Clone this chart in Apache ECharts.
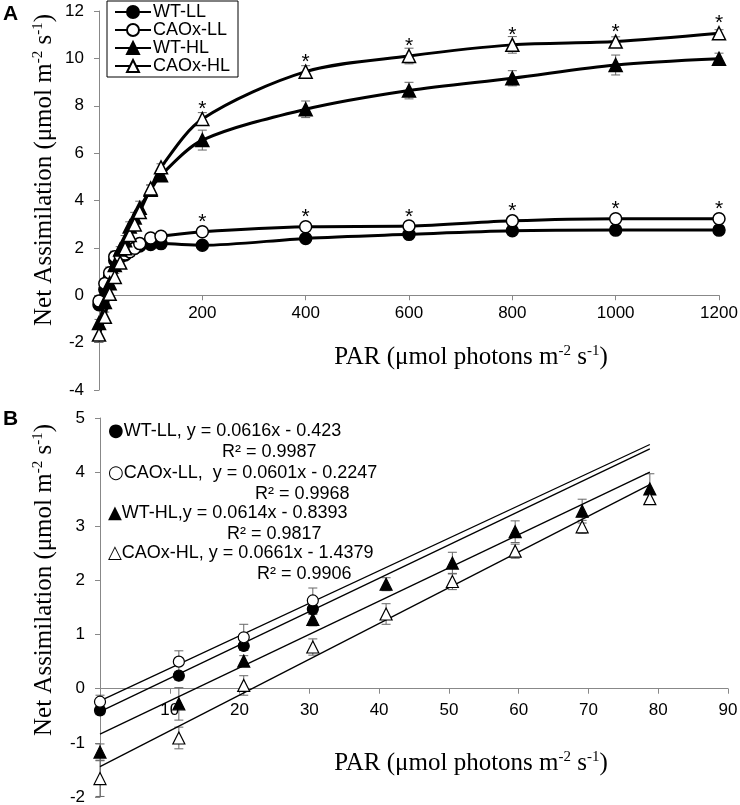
<!DOCTYPE html>
<html><head><meta charset="utf-8">
<script src="https://cdn.jsdelivr.net/npm/echarts@6/dist/echarts.min.js"></script>
<style>html,body{margin:0;padding:0;background:#fff}#c{width:740px;height:805px}</style>
</head><body><div id="c"></div>
<script>
// ---------- Panel A data ----------
const seriesNames = ['WT-LL', 'CAOx-LL', 'WT-HL', 'CAOx-HL'];
const parA = [0, 11.3, 20.6, 30.5, 41, 50.5, 59.5, 69.1, 78.8, 100, 120, 200, 400, 600, 800, 1000, 1200];
const wtLL_A  = [-0.40, 0.24, 0.79, 1.47, 1.60, 1.70, 1.85, 1.98, 2.08, 2.14, 2.18, 2.11, 2.40, 2.57, 2.72, 2.75, 2.75];
const caoLL_A = [-0.24, 0.50, 0.95, 1.63, 1.66, 1.74, 1.84, 1.98, 2.18, 2.42, 2.49, 2.68, 2.89, 2.92, 3.14, 3.23, 3.23];
const wtHL_A  = [-1.17, -0.28, 0.51, 1.28, 1.93, 2.32, 2.90, 3.28, 3.69, 4.45, 5.07, 6.55, 7.85, 8.64, 9.16, 9.72, 9.98];
const caoHL_A = [-1.66, -0.91, 0.06, 0.77, 1.38, 1.98, 2.54, 2.99, 3.51, 4.51, 5.40, 7.44, 9.44, 10.10, 10.57, 10.71, 11.06];
const errWtLL_A  = [0.08, 0.08, 0.08, 0.10, 0.10, 0.10, 0.10, 0.10, 0.10, 0.10, 0.10, 0.10, 0.10, 0.10, 0.10, 0.10, 0.10];
const errCaoLL_A = [0.12, 0.20, 0.24, 0.23, 0.15, 0.15, 0.15, 0.15, 0.15, 0.12, 0.12, 0.12, 0.12, 0.10, 0.10, 0.10, 0.10];
const errWtHL_A  = [0.15, 0.30, 0.10, 0.12, 0.12, 0.20, 0.20, 0.22, 0.28, 0.20, 0.20, 0.42, 0.35, 0.35, 0.32, 0.42, 0.24];
const errCaoHL_A = [0.33, 0.20, 0.18, 0.15, 0.19, 0.15, 0.13, 0.12, 0.10, 0.15, 0.15, 0.27, 0.25, 0.33, 0.35, 0.20, 0.15];
// significance asterisks (1 = '*')
const sigLL_A = [0,0,0,0,0,0,0,0,0,0,0,1,1,1,1,1,1];
const sigHL_A = [0,0,0,0,0,0,0,0,0,0,0,1,1,1,1,1,1];
const xTicksA = [0, 200, 400, 600, 800, 1000, 1200];
const yTicksA = [-4, -2, 0, 2, 4, 6, 8, 10, 12];

// ---------- Panel B data ----------
const parB = [0, 11.3, 20.6, 30.5, 41, 50.5, 59.5, 69.1, 78.8];
const wtLL_B  = [-0.40, 0.24, 0.79, 1.47];
const caoLL_B = [-0.24, 0.50, 0.95, 1.63];
const wtHL_B  = [-1.17, -0.28, 0.51, 1.28, 1.93, 2.32, 2.90, 3.28, 3.69];
const caoHL_B = [-1.66, -0.91, 0.06, 0.77, 1.38, 1.98, 2.54, 2.99, 3.51];
const errWtLL_B  = [0.08, 0.08, 0.08, 0.10];
const errCaoLL_B = [0.12, 0.20, 0.24, 0.23];
const errWtHL_B  = [0.15, 0.30, 0.10, 0.12, 0.12, 0.20, 0.20, 0.22, 0.28];
const errCaoHL_B = [0.33, 0.20, 0.18, 0.15, 0.19, 0.15, 0.13, 0.12, 0.10];
const fitSlope = [0.0616, 0.0601, 0.0614, 0.0661];
const fitIntercept = [-0.423, -0.2247, -0.8393, -1.4379];
const fitR2 = ['0.9987', '0.9968', '0.9817', '0.9906'];
const fitSep = [' ', '  ', '', ' '];
const fitXEnd = 78.8;
const xTicksB = [0, 10, 20, 30, 40, 50, 60, 70, 80, 90];
const yTicksB = [-2, -1, 0, 1, 2, 3, 4, 5];

// ---------- styles / layout ----------
const SANS = 'Liberation Sans, Arial, sans-serif';
const SERIF = 'Liberation Serif, Times New Roman, serif';
const symbols = ['circle', 'circle', 'triangle', 'triangle'];
const fills = ['#000', '#fff', '#000', '#fff'];
const symChars = ['●', '○', '▲', '△'];
const H = 805;
const gridA = {left: 99, right: 21, top: 11, bottom: 415};
const gridB = {left: 100, right: 12, top: 418, bottom: 8};
function zeroOffset(grid, ticks) {
  const h = H - grid.top - grid.bottom;
  const mn = ticks[0], mx = ticks[ticks.length - 1];
  return -h * (0 - mn) / (mx - mn);
}

const chart = echarts.init(document.getElementById('c'), null, {renderer: 'canvas'});

function errSeries(name, xi, xs, ys, es) {
  return {
    type: 'custom', name: name, xAxisIndex: xi, yAxisIndex: xi, z: 1, silent: true,
    data: xs.slice(0, ys.length).map((x, i) => [x, ys[i] - es[i], ys[i] + es[i]]),
    encode: {x: 0, y: [1, 2]},
    renderItem: function (params, api) {
      const x = api.value(0);
      const lo = api.coord([x, api.value(1)]);
      const hi = api.coord([x, api.value(2)]);
      const w = 4.5;
      const st = {stroke: '#666', lineWidth: 1};
      return {type: 'group', children: [
        {type: 'line', shape: {x1: lo[0], y1: lo[1], x2: hi[0], y2: hi[1]}, style: st},
        {type: 'line', shape: {x1: lo[0] - w, y1: lo[1], x2: lo[0] + w, y2: lo[1]}, style: st},
        {type: 'line', shape: {x1: hi[0] - w, y1: hi[1], x2: hi[0] + w, y2: hi[1]}, style: st}
      ]};
    }
  };
}

function lineSeriesA(k, ys, sig) {
  return {
    type: 'line', name: seriesNames[k], xAxisIndex: 0, yAxisIndex: 0, z: 3,
    smooth: 0.3, symbol: symbols[k], symbolSize: k >= 2 ? 13 : 12,
    lineStyle: {color: '#000', width: 3},
    itemStyle: {color: fills[k], borderColor: '#000', borderWidth: 1.5},
    emphasis: {disabled: true},
    data: parA.map((x, i) => {
      const item = {value: [x, ys[i]]};
      if (sig && sig[i]) {
        item.label = {show: true, formatter: '*', position: 'top', distance: -8,
          fontSize: 21, color: '#000', fontFamily: SANS};
      }
      return item;
    })
  };
}

function scatterB(k, ys) {
  return {
    type: 'line', name: seriesNames[k] + ' (B)', xAxisIndex: 1, yAxisIndex: 1, z: 3,
    symbol: symbols[k], symbolSize: k >= 2 ? 12 : 11, showSymbol: true,
    lineStyle: {width: 0, opacity: 0},
    itemStyle: {color: fills[k], borderColor: '#000', borderWidth: 1.2},
    emphasis: {disabled: true},
    data: parB.slice(0, ys.length).map((x, i) => [x, ys[i]])
  };
}

function fitSeries(k) {
  return {
    type: 'line', name: seriesNames[k] + ' fit', xAxisIndex: 1, yAxisIndex: 1, z: 2,
    showSymbol: false, symbol: 'none', silent: true,
    lineStyle: {color: '#000', width: 1.3},
    data: [[0, fitIntercept[k]], [fitXEnd, fitSlope[k] * fitXEnd + fitIntercept[k]]]
  };
}

function axisCommon(extra) {
  return Object.assign({
    type: 'value',
    axisLine: {show: true, onZero: false, lineStyle: {color: '#888', width: 1}},
    axisTick: {show: true, inside: false, length: 5, lineStyle: {color: '#888'}},
    splitLine: {show: false},
    axisLabel: {color: '#000', fontSize: 17, fontFamily: SANS}
  }, extra);
}

const supRich = {
  a: {fontFamily: SERIF, fontSize: 25, color: '#000', lineHeight: 26},
  s: {fontFamily: SERIF, fontSize: 15, color: '#000', verticalAlign: 'top', lineHeight: 26, padding: [0, 0, 10, 0]}
};
const xTitle = '{a|PAR (μmol photons m}{s|-2}{a| s}{s|-1}{a|)}';
const yTitle = '{a|Net Assimilation (μmol m}{s|-2}{a| s}{s|-1}{a|)}';

const graphics = [
  {type: 'text', left: 3, top: 4, style: {text: 'A', font: 'bold 21px ' + SANS, fill: '#000'}},
  {type: 'text', left: 3, top: 409, style: {text: 'B', font: 'bold 21px ' + SANS, fill: '#000'}},
  {type: 'text', x: 471, y: 357, style: {text: xTitle, rich: supRich, align: 'center', verticalAlign: 'middle'}},
  {type: 'text', x: 471, y: 763, style: {text: xTitle, rich: supRich, align: 'center', verticalAlign: 'middle'}},
  {type: 'text', x: 44, y: 170, rotation: Math.PI / 2, style: {text: yTitle, rich: supRich, align: 'center', verticalAlign: 'middle'}},
  {type: 'text', x: 44, y: 580, rotation: Math.PI / 2, style: {text: yTitle, rich: supRich, align: 'center', verticalAlign: 'middle'}}
];
const eqY = [431, 473, 513, 553];
const r2X = [222, 255, 227, 257];
for (let k = 0; k < 4; k++) {
  const eq = '{m|' + symChars[k] + '}{t|' + seriesNames[k] + ',' + fitSep[k] + 'y = ' + fitSlope[k] + 'x - ' + Math.abs(fitIntercept[k]) + '}';
  graphics.push({type: 'text', x: 108, y: eqY[k], style: {text: eq, verticalAlign: 'middle',
    rich: {m: {fontFamily: 'DejaVu Sans', fontSize: 18, color: '#000'}, t: {fontFamily: SANS, fontSize: 18, color: '#000'}}}});
  graphics.push({type: 'text', x: r2X[k], y: eqY[k] + 21, style: {text: 'R² = ' + fitR2[k], verticalAlign: 'middle',
    font: '18px ' + SANS, fill: '#000'}});
}

const option = {
  animation: false,
  backgroundColor: '#fff',
  textStyle: {fontFamily: SANS},
  grid: [
    Object.assign({outerBoundsMode: 'none', containLabel: false}, gridA),
    Object.assign({outerBoundsMode: 'none', containLabel: false}, gridB)
  ],
  xAxis: [
    axisCommon({gridIndex: 0, min: xTicksA[0], max: xTicksA[xTicksA.length - 1], interval: 200,
      offset: zeroOffset(gridA, yTicksA),
      axisLabel: {color: '#000', fontSize: 17, fontFamily: SANS, margin: 10, formatter: v => v === 0 ? '' : v}}),
    axisCommon({gridIndex: 1, min: xTicksB[0], max: xTicksB[xTicksB.length - 1], interval: 10,
      offset: zeroOffset(gridB, yTicksB),
      axisLabel: {color: '#000', fontSize: 17, fontFamily: SANS, margin: 13, formatter: v => v === 0 ? '' : v}})
  ],
  yAxis: [
    axisCommon({gridIndex: 0, min: yTicksA[0], max: yTicksA[yTicksA.length - 1], interval: 2,
      axisLabel: {color: '#000', fontSize: 17, fontFamily: SANS, margin: 15}}),
    axisCommon({gridIndex: 1, min: yTicksB[0], max: yTicksB[yTicksB.length - 1], interval: 1,
      axisLabel: {color: '#000', fontSize: 17, fontFamily: SANS, margin: 15}})
  ],
  legend: {
    data: seriesNames, orient: 'vertical', left: 107, top: 1,
    itemWidth: 36, itemHeight: 15, itemGap: 0, padding: [2, 8, 2, 7],
    borderColor: '#000', borderWidth: 1, backgroundColor: '#fff', selectedMode: false,
    textStyle: {fontSize: 18, color: '#000', fontFamily: SANS, padding: [0, 0, 0, -3]}
  },
  graphic: graphics,
  series: [
    errSeries('e1', 0, parA, wtLL_A, errWtLL_A),
    errSeries('e2', 0, parA, caoLL_A, errCaoLL_A),
    errSeries('e3', 0, parA, wtHL_A, errWtHL_A),
    errSeries('e4', 0, parA, caoHL_A, errCaoHL_A),
    lineSeriesA(0, wtLL_A, null),
    lineSeriesA(1, caoLL_A, sigLL_A),
    lineSeriesA(2, wtHL_A, null),
    lineSeriesA(3, caoHL_A, sigHL_A),
    errSeries('f1', 1, parB, wtLL_B, errWtLL_B),
    errSeries('f2', 1, parB, caoLL_B, errCaoLL_B),
    errSeries('f3', 1, parB, wtHL_B, errWtHL_B),
    errSeries('f4', 1, parB, caoHL_B, errCaoHL_B),
    fitSeries(0), fitSeries(1), fitSeries(2), fitSeries(3),
    scatterB(0, wtLL_B), scatterB(1, caoLL_B), scatterB(2, wtHL_B), scatterB(3, caoHL_B)
  ]
};
chart.setOption(option);
</script>
</body></html>
